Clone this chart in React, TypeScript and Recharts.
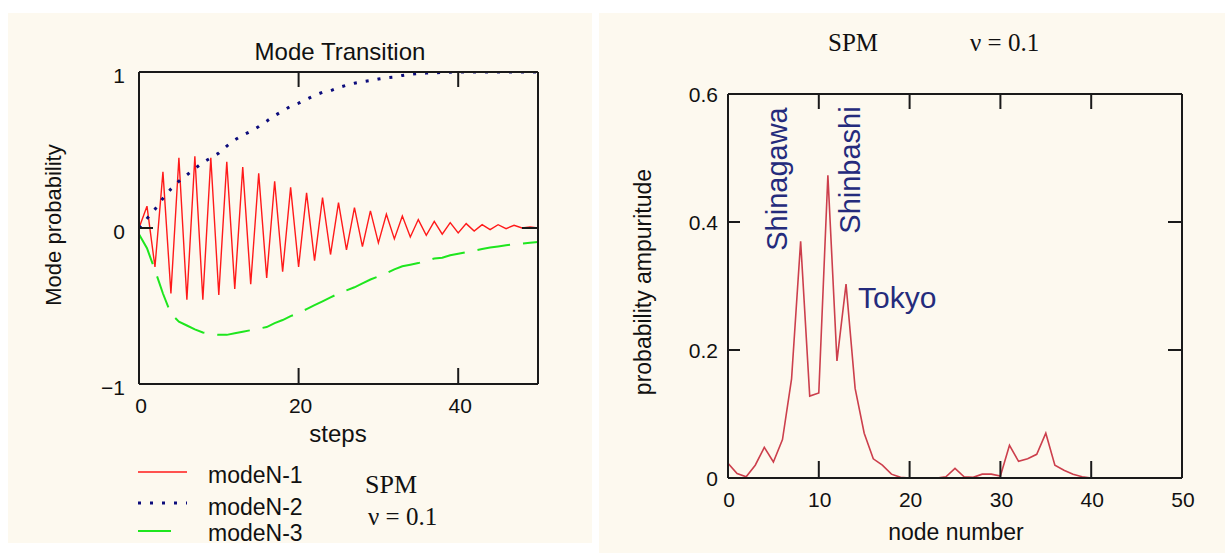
import { LineChart, Line, XAxis, YAxis } from 'recharts';

// Left panel: mode probabilities per step
const steps = [
  0, 1, 2, 3, 4, 5, 6, 7, 8, 9, 10, 11, 12, 13, 14, 15, 16, 17, 18, 19, 20, 21, 22, 23, 24, 25,
  26, 27, 28, 29, 30, 31, 32, 33, 34, 35, 36, 37, 38, 39, 40, 41, 42, 43, 44, 45, 46, 47, 48, 49, 50,
];
const modeN1 = [
  0, 0.14, -0.25, 0.36, -0.42, 0.45, -0.46, 0.46, -0.46, 0.45, -0.43, 0.425, -0.39, 0.39, -0.36, 0.35,
  -0.32, 0.3, -0.28, 0.26, -0.25, 0.225, -0.21, 0.195, -0.17, 0.163, -0.14, 0.13, -0.12, 0.11, -0.095,
  0.088, -0.07, 0.077, -0.058, 0.054, -0.047, 0.043, -0.04, 0.034, -0.032, 0.028, -0.02, 0.021, -0.01,
  0.021, -0.004, 0.017, 0, 0.006, 0,
];
const modeN2 = [
  0, 0.06, 0.12, 0.19, 0.25, 0.3, 0.34, 0.38, 0.42, 0.45, 0.48, 0.525, 0.565, 0.595, 0.62, 0.65, 0.685,
  0.72, 0.75, 0.78, 0.8, 0.825, 0.85, 0.87, 0.88, 0.9, 0.915, 0.928, 0.937, 0.945, 0.955, 0.963, 0.968,
  0.978, 0.985, 0.99, 0.993, 0.995, 0.997, 0.999, 1, 1, 1, 1, 1, 1, 1, 1, 1, 1, 1,
];
const modeN3 = [
  -0.04, -0.13, -0.27, -0.42, -0.55, -0.6, -0.625, -0.65, -0.67, -0.68, -0.685, -0.685, -0.675, -0.665,
  -0.655, -0.645, -0.635, -0.61, -0.59, -0.565, -0.545, -0.52, -0.495, -0.47, -0.445, -0.42, -0.4, -0.38,
  -0.355, -0.33, -0.31, -0.29, -0.265, -0.245, -0.235, -0.225, -0.21, -0.195, -0.19, -0.175, -0.165,
  -0.155, -0.145, -0.135, -0.125, -0.118, -0.11, -0.105, -0.1, -0.095, -0.09,
];
const stepTicks = [0, 20, 40];
const probTicks = [-1, 0, 1];

// Right panel: probability amplitude per node
const nodes = [
  0, 1, 2, 3, 4, 5, 6, 7, 8, 9, 10, 11, 12, 13, 14, 15, 16, 17, 18, 19, 20, 21, 22, 23, 24, 25,
  26, 27, 28, 29, 30, 31, 32, 33, 34, 35, 36, 37, 38, 39, 40, 41, 42, 43, 44, 45, 46, 47, 48, 49, 50,
];
const amplitude = [
  0.023, 0.007, 0.002, 0.02, 0.048, 0.025, 0.06, 0.155, 0.37, 0.128, 0.133, 0.473, 0.183, 0.303, 0.14,
  0.07, 0.03, 0.02, 0.006, 0.001, 0, 0, 0, 0, 0.002, 0.015, 0.002, 0.001, 0.006, 0.006, 0.003, 0.051,
  0.026, 0.03, 0.037, 0.07, 0.02, 0.012, 0.006, 0.002, 0, 0, 0, 0, 0, 0, 0, 0, 0, 0, 0,
];
const nodeTicks = [0, 10, 20, 30, 40, 50];
const ampTicks = [0, 0.2, 0.4, 0.6];

const modeData = steps.map((s, i) => ({ step: s, n1: modeN1[i], n2: modeN2[i], n3: modeN3[i] }));
const nodeData = nodes.map((n, i) => ({ node: n, amp: amplitude[i] }));

const SANS = "'Liberation Sans', Arial, sans-serif";
const SERIF = "'Liberation Serif', 'Times New Roman', serif";
const FRAME = '#1a1a1a';
const CREAM = '#fdf9ef';
const NAVY = '#252b7c';

// legend sample rows: y of the sample line, baseline of the name, end x of the sample
const series = [
  { key: 'n1', name: 'modeN-1', color: '#ff1a1a', width: 1.4, dash: undefined as string | undefined, ly: 472, ty: 483, lx: 187 },
  { key: 'n2', name: 'modeN-2', color: '#0c0c7c', width: 3, dash: '3 9', ly: 503, ty: 515, lx: 187 },
  { key: 'n3', name: 'modeN-3', color: '#1ee61e', width: 2, dash: '33 13', ly: 531, ty: 541, lx: 171 },
];

type Side = 'bottom' | 'top' | 'left' | 'right';

// custom tick: inward tick mark (for listed values) + optional label
function frameTick(side: Side, marks: number[], len: number, label = false, offset = 0, shift = 0) {
  return (props: any) => {
    const { x, y, payload } = props;
    const v = payload.value as number;
    let mark = null;
    if (marks.includes(v)) {
      const p =
        side === 'bottom' ? [x, y, x, y - len]
        : side === 'top' ? [x, y, x, y + len]
        : side === 'left' ? [x, y, x + len, y]
        : [x, y, x - len, y];
      mark = <line x1={p[0]} y1={p[1]} x2={p[2]} y2={p[3]} stroke={FRAME} strokeWidth={2} />;
    }
    let txt = null;
    if (label) {
      const s = v < 0 ? '\u2212' + Math.abs(v) : String(v);
      txt =
        side === 'bottom' ? (
          <text x={x + shift} y={y + offset} textAnchor="middle" dominantBaseline="central"
            fontFamily={SANS} fontSize={21} fill="#111">{s}</text>
        ) : (
          <text x={x - offset} y={y + shift} textAnchor="end" dominantBaseline="central"
            fontFamily={SANS} fontSize={21} fill="#111">{s}</text>
        );
    }
    return <g>{mark}{txt}</g>;
  };
}

const axisLine = { stroke: FRAME, strokeWidth: 2 };

function ModeChart() {
  return (
    <LineChart width={600} height={553} data={modeData}
      margin={{ top: 62, right: 52, bottom: 129, left: 99 }}>
      <XAxis xAxisId="b" dataKey="step" type="number" domain={[0, 50]} allowDataOverflow
        ticks={stepTicks} interval={0} height={40} tickSize={0} tickMargin={0}
        axisLine={axisLine} tickLine={false} tick={frameTick('bottom', [20, 40], 16, true, 21, 2)} />
      <XAxis xAxisId="t" orientation="top" dataKey="step" type="number" domain={[0, 50]} allowDataOverflow
        ticks={[20, 40]} interval={0} height={10} tickSize={0} tickMargin={0}
        axisLine={axisLine} tickLine={false} tick={frameTick('top', [20, 40], 15)} />
      <YAxis yAxisId="l" type="number" domain={[-1, 1]} allowDataOverflow ticks={probTicks} interval={0}
        width={40} tickSize={0} tickMargin={0} axisLine={axisLine} tickLine={false}
        tick={frameTick('left', [0], 14, true, 14, 3)} />
      <YAxis yAxisId="r" orientation="right" type="number" domain={[-1, 1]} allowDataOverflow ticks={[0]}
        interval={0} width={10} tickSize={0} tickMargin={0} axisLine={axisLine} tickLine={false}
        tick={frameTick('right', [0], 16)} />
      {series.map((s) => (
        <Line key={s.key} xAxisId="b" yAxisId="l" type="linear" dataKey={s.key} name={s.name}
          stroke={s.color} strokeWidth={s.width} strokeDasharray={s.dash} dot={false}
          activeDot={false} isAnimationActive={false} />
      ))}
    </LineChart>
  );
}

function NodeChart() {
  return (
    <LineChart width={625} height={553} data={nodeData}
      margin={{ top: 84, right: 33, bottom: 35, left: 88 }}>
      <XAxis xAxisId="b" dataKey="node" type="number" domain={[0, 50]} allowDataOverflow
        ticks={nodeTicks} interval={0} height={40} tickSize={0} tickMargin={0}
        axisLine={axisLine} tickLine={false}
        tick={frameTick('bottom', [10, 20, 30, 40], 17, true, 21, 1)} />
      <XAxis xAxisId="t" orientation="top" dataKey="node" type="number" domain={[0, 50]} allowDataOverflow
        ticks={[10, 20, 30, 40]} interval={0} height={10} tickSize={0} tickMargin={0}
        axisLine={axisLine} tickLine={false} tick={frameTick('top', [10, 20, 30, 40], 15)} />
      <YAxis yAxisId="l" type="number" domain={[0, 0.6]} allowDataOverflow ticks={ampTicks} interval={0}
        width={40} tickSize={0} tickMargin={0} axisLine={axisLine} tickLine={false}
        tick={frameTick('left', [0.2, 0.4], 12, true, 10, 0)} />
      <YAxis yAxisId="r" orientation="right" type="number" domain={[0, 0.6]} allowDataOverflow
        ticks={[0.2, 0.4]} interval={0} width={10} tickSize={0} tickMargin={0} axisLine={axisLine}
        tickLine={false} tick={frameTick('right', [0.2, 0.4], 14)} />
      <Line xAxisId="b" yAxisId="l" type="linear" dataKey="amp" stroke="#cc3f4c" strokeWidth={1.6}
        dot={false} activeDot={false} isAnimationActive={false} />
    </LineChart>
  );
}

export default function App() {
  return (
    <div style={{ position: 'absolute', left: 0, top: 0, width: 1225, height: 553, background: '#fff', overflow: 'hidden' }}>
      <div style={{ position: 'absolute', left: 8, top: 13, width: 584, height: 530, background: CREAM }} />
      <div style={{ position: 'absolute', left: 599, top: 13, width: 626, height: 540, background: CREAM }} />

      <div style={{ position: 'absolute', left: 0, top: 0 }}>
        <ModeChart />
      </div>
      <div style={{ position: 'absolute', left: 600, top: 0 }}>
        <NodeChart />
      </div>

      {/* titles, axis names, legend and station labels */}
      <svg width={1225} height={553} style={{ position: 'absolute', left: 0, top: 0, pointerEvents: 'none' }}>
        <g fontFamily={SANS} fill="#111">
          <text x={340} y={60} textAnchor="middle" fontSize={24}>Mode Transition</text>
          <text x={61} y={225} textAnchor="middle" fontSize={22} transform="rotate(-90 61 225)">Mode probability</text>
          <text x={338} y={442} textAnchor="middle" fontSize={24}>steps</text>
          {series.map((s) => (
            <g key={s.key}>
              <line x1={138} x2={s.lx} y1={s.ly} y2={s.ly}
                stroke={s.color} strokeWidth={s.width} strokeDasharray={s.dash} />
              <text x={208} y={s.ty} fontSize={23}>{s.name}</text>
            </g>
          ))}
          <text x={651} y={282} textAnchor="middle" fontSize={23} transform="rotate(-90 651 282)">probability ampuritude</text>
          <text x={956} y={540} textAnchor="middle" fontSize={23}>node number</text>
        </g>
        <g fontFamily={SERIF} fill="#111">
          <text x={365} y={493} fontSize={26}>SPM</text>
          <text x={368} y={525} fontSize={25}>ν = 0.1</text>
          <text x={828} y={51} fontSize={25}>SPM</text>
          <text x={970} y={51} fontSize={25}>ν = 0.1</text>
        </g>
        <g fontFamily={SANS} fill={NAVY} fontSize={29}>
          <text x={787} y={179} textAnchor="middle" transform="rotate(-90 787 179)">Shinagawa</text>
          <text x={860} y={170} textAnchor="middle" transform="rotate(-90 860 170)">Shinbashi</text>
          <text x={858} y={308} fontSize={30}>Tokyo</text>
        </g>
      </svg>
    </div>
  );
}
